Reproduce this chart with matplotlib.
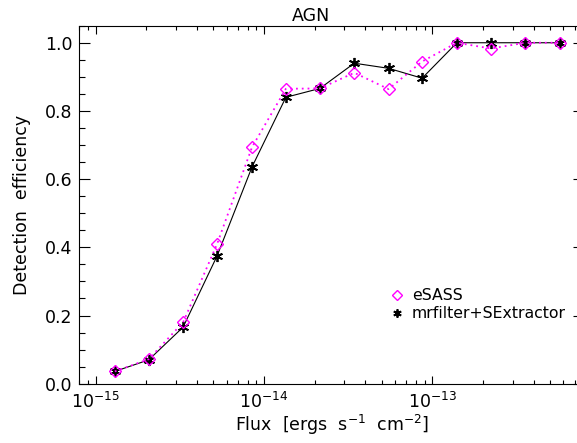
import numpy as np
import matplotlib
matplotlib.use("Agg")
import matplotlib.pyplot as plt
from matplotlib.ticker import MultipleLocator, FormatStrFormatter, FixedLocator, LogLocator

# flux bins (erg s^-1 cm^-2)
flux = [1.30e-15, 2.07e-15, 3.31e-15, 5.27e-15, 8.5e-15, 1.35e-14, 2.15e-14,
        3.44e-14, 5.5e-14, 8.7e-14, 1.40e-13, 2.23e-13, 3.57e-13, 5.7e-13]
esass = [0.036, 0.072, 0.180, 0.410, 0.694, 0.865, 0.866,
         0.912, 0.864, 0.945, 1.0, 0.983, 1.0, 1.0]
mrfilter = [0.036, 0.070, 0.166, 0.375, 0.636, 0.840, 0.866,
            0.940, 0.925, 0.896, 1.0, 1.0, 1.0, 1.0]
xticks = [1e-15, 1e-14, 1e-13]

plt.rcParams['font.family'] = ['DejaVu Sans']
plt.rcParams['mathtext.fontset'] = 'dejavusans'

W, H = 577, 443
fig = plt.figure(figsize=(W/100, H/100), dpi=100)
# axes box in pixels: left 79, right 584 (runs off the image), top 26, bottom 384
ax = fig.add_axes([79.3/W, 1-383.7/H, (584.3-79.3)/W, (383.7-25.7)/H])

ax.plot(flux, mrfilter, color='black', lw=0.8, marker=(6, 2, 0), ms=8, mew=1.3,
        label='mrfilter+SExtractor', zorder=3)
ax.plot(flux, esass, color='magenta', lw=1.3, ls=(0, (1, 2.2)), marker='D', ms=6.5,
        mfc='none', mec='magenta', mew=1.0, label='eSASS', zorder=4)

ax.set_xscale('log')
ax.set_xlim(8e-16, 8e-13)
ax.set_ylim(0, 1.05)
ax.xaxis.set_major_locator(FixedLocator(xticks))
ax.xaxis.set_minor_locator(LogLocator(base=10, subs=np.arange(2, 10), numticks=20))
ax.yaxis.set_major_locator(MultipleLocator(0.2))
ax.yaxis.set_minor_locator(MultipleLocator(0.05))
ax.yaxis.set_major_formatter(FormatStrFormatter('%.1f'))

ax.tick_params(axis='both', which='both', direction='in', top=True, right=True,
               width=0.8, labelsize=12.5)
ax.tick_params(axis='x', which='major', length=5.5, pad=6)
ax.tick_params(axis='x', which='minor', length=2.8, labelbottom=False)
ax.tick_params(axis='y', which='major', length=8, pad=5)
ax.tick_params(axis='y', which='minor', length=4.3)
for s in ax.spines.values():
    s.set_linewidth(0.8)

ax.set_xlabel(r'Flux  [ergs  s$^{-1}$  cm$^{-2}$]', fontsize=12.5, labelpad=0.5)
ax.set_ylabel('Detection  efficiency', fontsize=12.5, labelpad=10)
fig.text(311/W, 1-21/H, 'AGN', ha='center', va='baseline', fontsize=12.5)

h, l = ax.get_legend_handles_labels()
leg = ax.legend(h[::-1], l[::-1], loc='upper left', frameon=False,
                bbox_to_anchor=(390/W, 1-288/H), bbox_transform=fig.transFigure,
                fontsize=11.3, handlelength=0.9, handletextpad=0.5,
                labelspacing=0.2, borderpad=0, borderaxespad=0, markerscale=0.75)
for line in leg.get_lines():
    line.set_linestyle('none')

fig.savefig('out.png', dpi=100)
